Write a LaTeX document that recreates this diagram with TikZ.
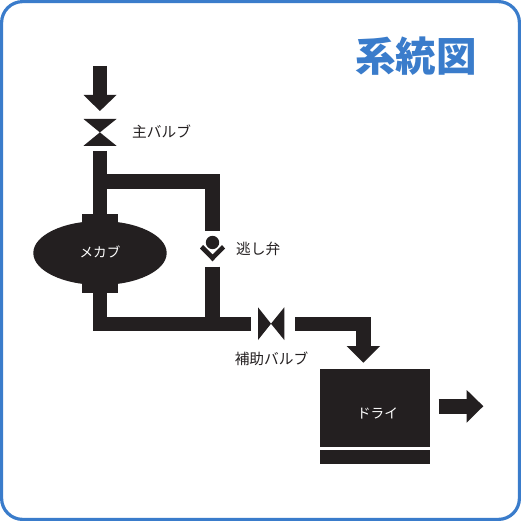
\documentclass[tikz,border=0pt]{standalone}
\usepackage{fontspec}
\usetikzlibrary{shapes.geometric}
\newfontfamily\cjk{Noto Sans CJK JP}
\definecolor{ink}{HTML}{231F20}
\definecolor{frameblue}{HTML}{3A7CCB}
\tikzset{
  pipe/.style={draw=ink,line width=14.6pt,line cap=butt,line join=miter},
  solid ink/.style={fill=ink,draw=none},
  label/.style={font=\cjk\fontsize{14.7}{14.7}\selectfont,text=ink,inner sep=0pt},
  inverse/.style={font=\cjk\fontsize{13.6}{13.6}\selectfont,text=white,inner sep=0pt},
  title/.style={font=\cjk\bfseries\fontsize{40.5}{40.5}\selectfont,text=frameblue,inner sep=0pt}
}
\begin{document}
\begin{tikzpicture}[x=1pt,y=-1pt]
\useasboundingbox (0,0) rectangle (521,521);
\fill[white] (0,0) rectangle (521,521);
\draw[frameblue,line width=3.2pt,rounded corners=21pt] (1.6,1.6) rectangle (519.4,519.4);
\node[title] (ttl) at (416,56) {系統図};
% anchor points
\coordinate (inS) at (99.9,66);
\coordinate (inE) at (99.9,96);
\coordinate (mvOut) at (99.9,151);
\coordinate (mkTop) at (99.9,222);
\coordinate (tee1) at (99.9,181.6);
\coordinate (corner1) at (212.7,181.6);
\coordinate (rvTop) at (212.7,231);
\coordinate (rvBot) at (212.7,266.7);
\coordinate (tee2) at (212.7,323.8);
\coordinate (mkBot) at (99.9,285);
\coordinate (corner2) at (99.9,323.8);
\coordinate (avIn) at (250.7,323.8);
\coordinate (avOut) at (295.3,323.8);
\coordinate (corner3) at (363.4,323.8);
\coordinate (dropE) at (363.4,347);
\coordinate (outS) at (438.7,406.2);
\coordinate (outE) at (467,406.2);
% inlet arrow
\draw[pipe] (inS) -- (inE);
\fill[solid ink] (83.5,95) -- (116.5,95) -- (99.9,111) -- cycle;
% main valve
\fill[solid ink] (83.5,119) -- (116.5,119) -- (99.9,132.4) -- (116.5,145.8) -- (83.5,145.8) -- (99.9,132.4) -- cycle;
\node[label,anchor=west] (mvl) at (132,131.5) {主バルブ};
% pipes
\draw[pipe] (mvOut) -- (mkTop);
\draw[pipe] (tee1) -- (corner1) -- (rvTop);
\draw[pipe] (mkBot) -- (corner2) -- (avIn);
\draw[pipe] (rvBot) -- (tee2);
% meka
\fill[solid ink] (82.3,214.3) rectangle (118,292.7);
\node[solid ink,ellipse,minimum width=133.4pt,minimum height=64pt,inner sep=0pt] (mk) at (100,253) {};
\node[inverse] (mkl) at (100,252) {メカブ};
% relief valve
\fill[solid ink] (212.5,242.5) circle (6.7);
\fill[solid ink] (200,248.5) -- (203,245) -- (212.5,254.5) -- (222,245) -- (225,248.5) -- (212.5,261.3) -- cycle;
\node[label,anchor=west] (rvl) at (236,248.5) {逃し弁};
% aux valve
\fill[solid ink] (258,307.3) -- (271,323.7) -- (284.3,307.3) -- (284.3,340) -- (271,323.7) -- (258,340) -- cycle;
\node[label,anchor=center] (avl) at (271.5,359) {補助バルブ};
% to dryer
\draw[pipe] (avOut) -- (corner3) -- (dropE);
\fill[solid ink] (346.7,346) -- (380,346) -- (363.4,362.7) -- cycle;
% dryer
\node[solid ink,minimum width=110pt,minimum height=77.7pt,inner sep=0pt] (dry) at (375.3,408.2) {};
\node[inverse] (dryl) at (377.5,413) {ドライ};
\node[solid ink,minimum width=110pt,minimum height=14.3pt,inner sep=0pt] (bar) at (375.3,457.2) {};
% outlet
\draw[pipe] (outS) -- (outE);
\fill[solid ink] (466.7,390) -- (483.3,406.2) -- (466.7,422.7) -- cycle;
\end{tikzpicture}
\end{document}
